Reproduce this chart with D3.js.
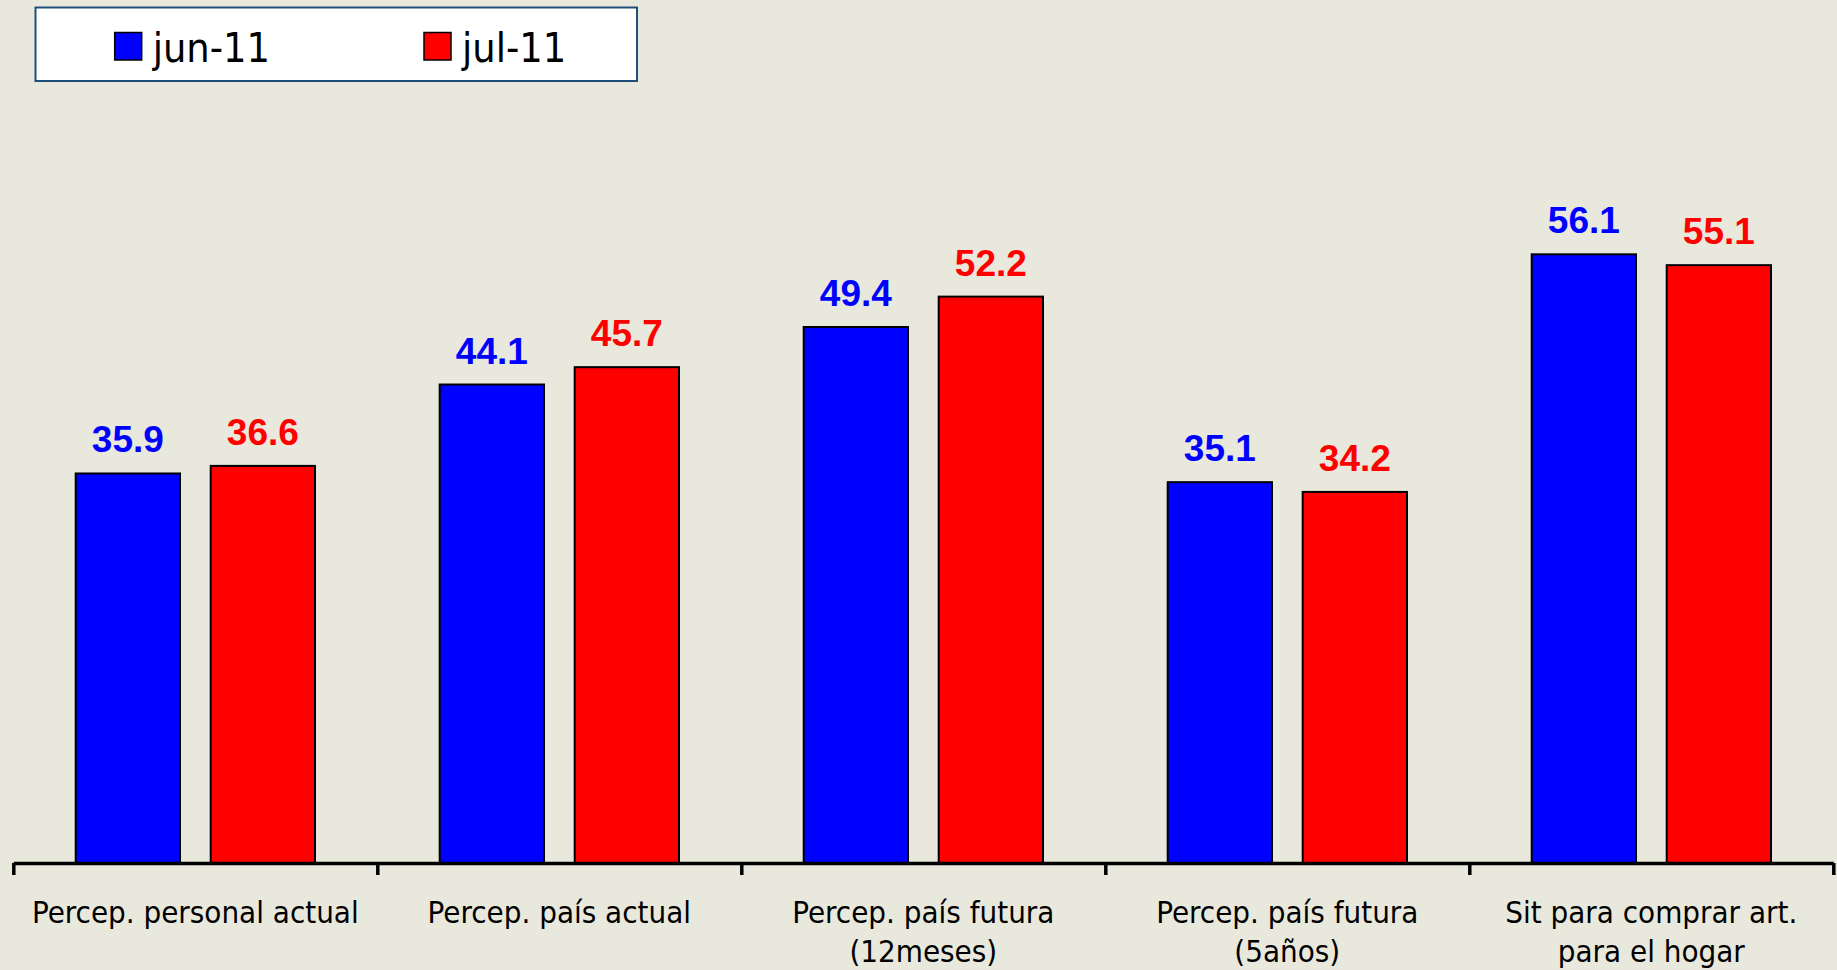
<!DOCTYPE html>
<html>
<head>
<meta charset="utf-8">
<script src="https://cdn.jsdelivr.net/npm/d3@7"></script>
<style>
  html, body { margin: 0; padding: 0; background: #E9E8DC; }
  svg { display: block; }
  .cond { font-family: "DejaVu Sans Condensed", "DejaVu Sans", sans-serif; font-stretch: condensed; }
  .val { font-family: "Liberation Sans", Arial, sans-serif; font-weight: bold; }
</style>
</head>
<body>
<svg id="chart" width="1837" height="970"></svg>
<script>
const categories = [
  ["Percep. personal actual"],
  ["Percep. país actual"],
  ["Percep. país futura", "(12meses)"],
  ["Percep. país futura", "(5años)"],
  ["Sit para comprar art.", "para el hogar"]
];
const seriesNames = ["jun-11", "jul-11"];
const jun11 = [35.9, 44.1, 49.4, 35.1, 56.1];
const jul11 = [36.6, 45.7, 52.2, 34.2, 55.1];
const seriesColors = ["#0000FF", "#FF0000"];

const W = 1837, H = 970;
const svg = d3.select("#chart");
svg.append("rect").attr("width", W).attr("height", H).attr("fill", "#E9E8DC");

const series = [jun11, jul11];
const catIdx = categories.map((d, i) => i);

const x0 = d3.scaleBand().domain(catIdx).range([13.3, 1833.3]).padding(0);
const x1 = d3.scaleBand().domain([0, 1]).range([62.4, 301.7]).paddingInner(0.2274).paddingOuter(0);
const y = d3.scaleLinear().domain([0, 60]).range([863, 212]);

// bars
const groups = svg.append("g").selectAll("g")
  .data(catIdx).join("g")
  .attr("transform", i => `translate(${x0(i)},0)`);

groups.selectAll("rect")
  .data(i => series.map((s, k) => ({k, v: s[i]})))
  .join("rect")
  .attr("x", d => x1(d.k))
  .attr("width", x1.bandwidth())
  .attr("y", d => y(d.v))
  .attr("height", d => y(0) - y(d.v))
  .attr("fill", d => seriesColors[d.k])
  .attr("stroke", "#000")
  .attr("stroke-width", 2);

groups.selectAll("text.val")
  .data(i => series.map((s, k) => ({k, v: s[i]})))
  .join("text")
  .attr("class", "val")
  .attr("x", d => x1(d.k) + x1.bandwidth() / 2)
  .attr("y", d => y(d.v) - 21)
  .attr("text-anchor", "middle")
  .attr("font-size", 37)
  .attr("fill", d => seriesColors[d.k])
  .text(d => d.v.toFixed(1));

// axis with ticks at band boundaries
const xb = d3.scaleLinear().domain([0, categories.length]).range(x0.range());
const axis = d3.axisBottom(xb).tickValues(d3.range(categories.length + 1)).tickSize(12).tickSizeOuter(0).tickFormat("");
const ag = svg.append("g").attr("transform", `translate(0,${y(0)})`).call(axis);
ag.select(".domain").attr("stroke", "#000").attr("stroke-width", 3.5);
ag.selectAll(".tick line").attr("stroke", "#000").attr("stroke-width", 3.5);

// category labels
const labels = svg.append("g").selectAll("text")
  .data(catIdx).join("text")
  .attr("class", "cond")
  .attr("font-size", 31)
  .attr("fill", "#000")
  .attr("text-anchor", "middle")
  .attr("x", i => x0(i) + x0.bandwidth() / 2)
  .attr("y", 922.7);
labels.selectAll("tspan")
  .data(i => categories[i].map(t => ({t, cx: x0(i) + x0.bandwidth() / 2})))
  .join("tspan")
  .attr("x", d => d.cx)
  .attr("dy", (d, j) => j === 0 ? 0 : 39.5)
  .text(d => d.t);

// legend
const lg = svg.append("g");
lg.append("rect").attr("x", 35.5).attr("y", 7.5).attr("width", 601.5).attr("height", 73.5)
  .attr("fill", "#FFFFFF").attr("stroke", "#1F4E79").attr("stroke-width", 2);
const legendX = [114.7, 424];
seriesNames.forEach((name, k) => {
  lg.append("rect").attr("x", legendX[k]).attr("y", 32.5).attr("width", 27).attr("height", 27.5)
    .attr("fill", seriesColors[k]).attr("stroke", "#000").attr("stroke-width", 1.5);
  lg.append("text").attr("class", "cond").attr("x", legendX[k] + 38).attr("y", 61.7)
    .attr("font-size", 41).attr("fill", "#000").text(name);
});
</script>
</body>
</html>
